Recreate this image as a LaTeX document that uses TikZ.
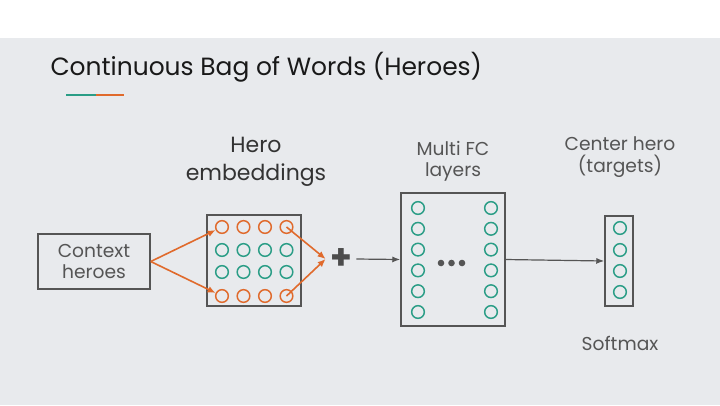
\documentclass[tikz,border=0pt]{standalone}
\usepackage{fontspec}
\setmainfont{Poppins}
\usetikzlibrary{arrows.meta}
\definecolor{slidebg}{HTML}{E8EAED}
\definecolor{heroteal}{HTML}{2A9D86}
\definecolor{herorange}{HTML}{E06A2C}
\definecolor{boxgray}{HTML}{555555}
\tikzset{every picture/.style={line width=0.75pt}}
\tikzset{
  box/.style={draw=boxgray, line width=1.1pt, inner sep=0pt},
  unit/.style={circle, draw=heroteal, line width=1.1pt, minimum size=9.5pt, inner sep=0pt},
  hot/.style={unit, draw=herorange},
  lbl/.style={text=boxgray, font=\fontsize{14}{16}\selectfont, align=center},
  feed/.style={draw=boxgray, line width=0.9pt, -{Latex[length=6pt,width=4.5pt]}},
  pick/.style={draw=herorange, line width=1.2pt, -{Latex[length=6pt,width=5pt]}},
}

\begin{document}
\begin{tikzpicture}[x=0.75pt,y=0.75pt,yscale=-1,xscale=1]
\path[use as bounding box] (0,0) rectangle (720,405);

%Background
\fill[white] (0,0) rectangle (720,405);
\fill[slidebg] (0,38) rectangle (720,405);

%Title
\node[anchor=base west, inner sep=0pt, font=\fontsize{18.7}{22}\selectfont, text=black!90] (title) at (50,75) {Continuous Bag of Words (Heroes)};
%Accent bar
\draw[heroteal, line width=2.2pt] (66,95) -- (96,95);
\draw[herorange, line width=2.2pt] (96,95) -- (124,95);

%Context heroes
\node[box, lbl, minimum width=84pt, minimum height=41pt] (ctx) at (94,261.5) {Context\\heroes};

%Hero embeddings
\node[box, minimum width=70.5pt, minimum height=68pt] (emb) at (254,260.5) {};
\foreach \c/\x in {1/222,2/243.5,3/265,4/286.5} {
  \node[hot] (e-1-\c) at (\x,227) {};
  \node[unit] (e-2-\c) at (\x,250) {};
  \node[unit] (e-3-\c) at (\x,272) {};
  \node[hot] (e-4-\c) at (\x,296) {};
}
\node[font=\fontsize{16.5}{21}\selectfont, text=black!80, align=center] (embl) at (256,162) {Hero\\embeddings};

%Sum
\node[font=\fontsize{26}{26}\selectfont\bfseries, text=boxgray!90!black, inner sep=3pt] (plus) at (341,259) {+};

\draw[pick] (ctx.east) -- (e-1-1);
\draw[pick] (ctx.east) -- (e-4-1);
\draw[pick] (e-1-4.center) -- (plus.west);
\draw[pick] (e-4-4.center) -- (plus.west);

%Multi FC layers
\node[box, minimum width=78pt, minimum height=100pt] (fc) at (453,259.5) {};
\foreach \i in {1,...,6} {
  \node[unit] (h-\i) at (418,{208+20.8*(\i-1)}) {};
  \node[unit] (o-\i) at (491,{208+20.8*(\i-1)}) {};
}
\foreach \x in {441,451.5,462} \fill[boxgray] (\x,263) circle (3.3);
\node[lbl] (fcl) at (453,161) {Multi FC\\layers};

\draw[feed] (plus.east) -- (fc.west);

%Center hero
\node[box, minimum width=21pt, minimum height=67.5pt] (tgt) at (619,261) {};
\foreach \i/\y in {1/228,2/250,3/271,4/292}
  \node[unit] (t-\i) at (620,\y) {};
\node[lbl] (tgtl) at (620,157) {Center hero\\(targets)};
\node[lbl] (smax) at (620,343) {Softmax};

\draw[feed] (fc.east) -- (tgt.west);
\end{tikzpicture}
\end{document}
